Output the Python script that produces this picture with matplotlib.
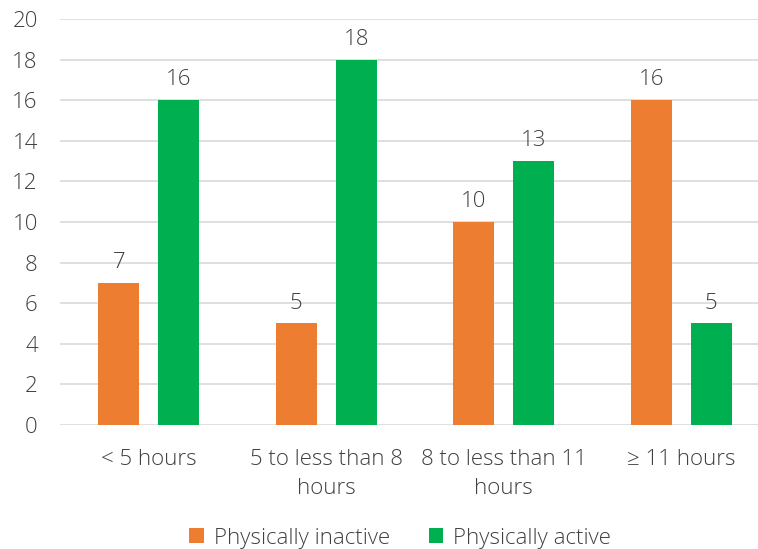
import numpy as np
import matplotlib.pyplot as plt

plt.rcParams['font.family'] = ['Open Sans', 'DejaVu Sans']
plt.rcParams['font.weight'] = 'light'

categories = ["< 5 hours", "5 to less than 8\nhours", "8 to less than 11\nhours", "\u2265 11 hours"]
inactive = [7, 5, 10, 16]
active = [16, 18, 13, 5]
series_names = ["Physically inactive", "Physically active"]

orange = "#ED7D31"
green = "#00B050"
txt = "#404040"
fs = 16

fig = plt.figure(figsize=(7.58, 5.49), dpi=100)
ax = fig.add_axes([0.0792, 0.2259, 0.9367, 0.7395])

x = np.arange(len(categories))
w = 0.231
off = 0.169
b1 = ax.bar(x - off, inactive, w, color=orange, label=series_names[0], zorder=3)
b2 = ax.bar(x + off, active, w, color=green, label=series_names[1], zorder=3)

for bars, vals in ((b1, inactive), (b2, active)):
    for r, v in zip(bars, vals):
        ax.annotate(str(v), (r.get_x() + r.get_width() / 2, v), xytext=(0, 7),
                    textcoords="offset points", ha="center", va="bottom",
                    fontsize=fs, color=txt)

ax.set_xlim(-0.5, 3.5)
ax.set_ylim(0, 20)
ax.set_yticks(np.arange(0, 21, 2))
ax.set_xticks(x)
ax.set_xticklabels(categories, linespacing=1.5)
ax.tick_params(axis="both", length=0, labelsize=fs, colors=txt)
ax.tick_params(axis="x", pad=17)
ax.tick_params(axis="y", pad=16)
ax.grid(axis="y", color="#D9D9D9", linewidth=1.2, zorder=0)
for s in ax.spines.values():
    s.set_visible(False)

fig.legend(handles=[b1, b2], loc="center", bbox_to_anchor=(0.528, 0.02), ncol=2,
           frameon=False, fontsize=fs, labelcolor=txt, handlelength=0.65,
           handleheight=0.65, handletextpad=0.45, columnspacing=1.75)

fig.savefig("out.png", dpi=100)
